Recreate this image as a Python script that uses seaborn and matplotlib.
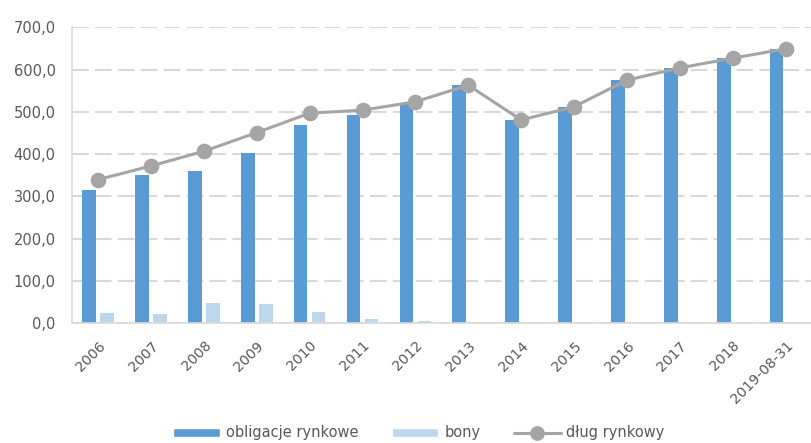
import numpy as np
import pandas as pd
import matplotlib
matplotlib.use("Agg")
import matplotlib.pyplot as plt
import seaborn as sns
from matplotlib.patches import Patch
from matplotlib.lines import Line2D
from matplotlib.ticker import FuncFormatter

# ---- data ----
years = ['2006', '2007', '2008', '2009', '2010', '2011', '2012', '2013',
         '2014', '2015', '2016', '2017', '2018', '2019-08-31']
obligacje = [315, 350, 359, 403, 468, 492, 518, 563, 481, 512, 575, 604, 627, 648]
bony = [24, 22, 49, 46, 27, 10, 5, 0, 0, 0, 0, 0, 0, 0]
dlug = [340, 372, 407, 451, 497, 504, 524, 563, 481, 512, 575, 604, 627, 649]
series_names = ['obligacje rynkowe', 'bony', 'dług rynkowy']
yticks = [0, 100, 200, 300, 400, 500, 600, 700]

c_obl = '#5B9BD5'
c_bony = '#BDD7EE'
c_line = '#A5A5A5'
txt = '#595959'
gridc = '#D9D9D9'

sns.set_style('white')
plt.rcParams['font.family'] = ['DejaVu Sans']

fig = plt.figure(figsize=(8.12, 4.43), dpi=100)
ax = fig.add_axes([71.7 / 812, (443 - 323.3) / 443, 740.3 / 812, 296 / 443])

df = pd.DataFrame({
    'rok': years * 2,
    'wartosc': obligacje + bony,
    'seria': [series_names[0]] * len(years) + [series_names[1]] * len(years),
})
sns.barplot(data=df, x='rok', y='wartosc', hue='seria', palette=[c_obl, c_bony],
            saturation=1, width=0.68, gap=0.24, linewidth=0, errorbar=None,
            legend=False, ax=ax)
sns.pointplot(x=years, y=dlug, color=c_line, markers='o', markersize=9.6,
              linewidth=2.2, errorbar=None, ax=ax)

ax.set_xlim(-0.5, len(years) - 0.5)
ax.set_ylim(0, 700)
ax.set_yticks(yticks)
ax.yaxis.set_major_formatter(FuncFormatter(lambda v, p: f"{v:.1f}".replace('.', ',')))
ax.set_xlabel('')
ax.set_ylabel('')

ax.set_axisbelow(True)
ax.yaxis.grid(True, color=gridc, linestyle=(0, (8, 3)), linewidth=1.5)
ax.xaxis.grid(False)
for s in ['top', 'right']:
    ax.spines[s].set_visible(False)
for s in ['left', 'bottom']:
    ax.spines[s].set_color(gridc)
    ax.spines[s].set_linewidth(1.2)

ax.tick_params(axis='y', length=0, pad=11.5, labelcolor=txt, labelsize=10.5)
ax.tick_params(axis='x', which='major', length=0, pad=11, labelcolor=txt, labelsize=10.2)
ax.set_xticks(np.arange(-0.5, len(years), 1), minor=True)
ax.tick_params(axis='x', which='minor', length=5, color=gridc, width=1.2)
for lbl in ax.get_xticklabels():
    lbl.set_rotation(45)
    lbl.set_ha('right')
    lbl.set_va('top')
    lbl.set_rotation_mode('anchor')

handles = [Patch(facecolor=c_obl), Patch(facecolor=c_bony),
           Line2D([], [], color=c_line, lw=2.2, marker='o', ms=9.6)]
fig.legend(handles=handles, labels=series_names, loc='center',
           bbox_to_anchor=(419 / 812, 1 - 433 / 443), ncol=3, frameon=False,
           fontsize=10.5, handlelength=3.2, handleheight=0.6, handletextpad=0.4,
           columnspacing=2.3, labelcolor=txt)

fig.savefig('out.png', dpi=100)
